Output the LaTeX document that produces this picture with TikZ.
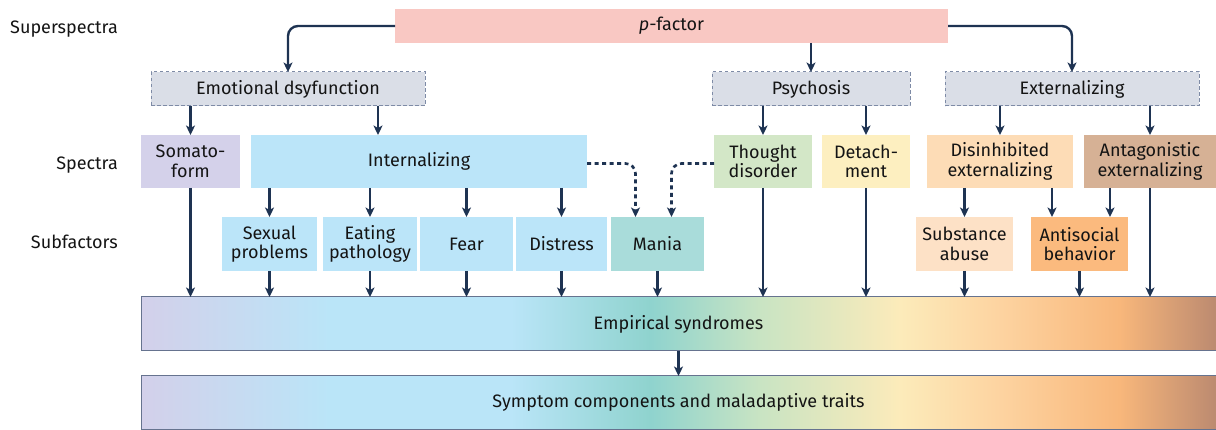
\documentclass[tikz,border=0pt]{standalone}
\usepackage{fontspec}
\setmainfont{Fira Sans}
\usetikzlibrary{arrows.meta,calc}
\definecolor{txt}{HTML}{141414}
\definecolor{arrc}{HTML}{1E3352}
\definecolor{cPf}{HTML}{F9C8C3}
\definecolor{cGray}{HTML}{DADEE7}
\definecolor{cGrayLine}{HTML}{7E8BA6}
\definecolor{cSoma}{HTML}{D4D1EA}
\definecolor{cInt}{HTML}{BBE5F9}
\definecolor{cTd}{HTML}{D3E7C7}
\definecolor{cDet}{HTML}{FDEFC0}
\definecolor{cDis}{HTML}{FDDCB6}
\definecolor{cAnt}{HTML}{D6B195}
\definecolor{cSub}{HTML}{FDE1C6}
\definecolor{cAnti}{HTML}{FBBA7E}
\definecolor{cMania}{HTML}{A9DCDA}
\definecolor{barline}{HTML}{66738F}
\definecolor{gA}{HTML}{D3D0EA}
\definecolor{gB}{HTML}{BAE5F8}
\definecolor{gC}{HTML}{BAE5F8}
\definecolor{gD}{HTML}{8FD3CE}
\definecolor{gE}{HTML}{C9E4C3}
\definecolor{gF}{HTML}{FCEBBA}
\definecolor{gG}{HTML}{FDD3A0}
\definecolor{gH}{HTML}{F8B77B}
\definecolor{gI}{HTML}{BC8A70}
\pgfdeclarehorizontalshading{spectrum}{100bp}{color(0bp)=(gA); color(25bp)=(gA); color(33.8bp)=(gB); color(42.2bp)=(gC); color(48.7bp)=(gD); color(53.8bp)=(gE); color(60.3bp)=(gF); color(65bp)=(gG); color(70.5bp)=(gH); color(75bp)=(gI); color(100bp)=(gI)}
\begin{document}
\begin{tikzpicture}[x=1pt,y=-1pt,
  font=\fontsize{18}{19.5}\selectfont,
  box/.style={inner sep=0pt, outer sep=0pt, align=center, text=txt},
  topbox/.style={box, fill=cGray, draw=cGrayLine, dash pattern=on 3.5pt off 2.5pt, line width=1pt, minimum height=34pt},
  specbox/.style={box, minimum height=53pt},
  subbox/.style={box, minimum height=54pt},
  barbox/.style={box, shade, shading=spectrum, draw=barline, line width=1pt, minimum width=1075pt, minimum height=54pt},
  lab/.style={text=txt, inner sep=0pt, anchor=base east},
  arr/.style={draw=arrc, line width=2.4pt, -{Stealth[length=9.5pt,width=9pt,inset=2.5pt]}},
  dasharr/.style={arr, dash pattern=on 4pt off 3.5pt, line width=2.6pt, rounded corners=10pt}
]
\useasboundingbox (0,0) rectangle (1216,430);
% labels
\node[lab] (lss) at (118,34) {Superspectra};
\node[lab] (lsp) at (118,170) {Spectra};
\node[lab] (lsf) at (118,249) {Subfactors};
% superspectra
\node[box, fill=cPf, minimum width=553pt, minimum height=34pt] (pf) at (671.5,26) {\textit{p}-factor};
\node[topbox, minimum width=274pt] (emo) at (288,89) {Emotional dsyfunction};
\node[topbox, minimum width=198pt] (psy) at (811,89) {Psychosis};
\node[topbox, minimum width=254pt] (ext) at (1072,89) {Externalizing};
% spectra
\node[specbox, fill=cSoma, minimum width=99pt] (soma) at (190.5,161.5) {Somato-\\form};
\node[specbox, fill=cInt, minimum width=336pt] (int) at (419,161.5) {Internalizing};
\node[specbox, fill=cTd, minimum width=98pt] (td) at (763,161.5) {Thought\\disorder};
\node[specbox, fill=cDet, minimum width=88pt] (det) at (866,161.5) {Detach-\\ment};
\node[specbox, fill=cDis, minimum width=146pt] (dis) at (1000,161.5) {Disinhibited\\externalizing};
\node[specbox, fill=cAnt, minimum width=132pt] (ant) at (1150,161.5) {Antagonistic\\externalizing};
% subfactors
\node[subbox, fill=cInt, minimum width=95pt] (sex) at (269.5,244) {Sexual\\problems};
\node[subbox, fill=cInt, minimum width=94pt] (eat) at (370,244) {Eating\\pathology};
\node[subbox, fill=cInt, minimum width=93pt] (fear) at (466.5,244) {Fear};
\node[subbox, fill=cInt, minimum width=91pt] (dist) at (561.5,244) {Distress};
\node[subbox, fill=cMania, minimum width=93pt] (mania) at (657.5,244) {Mania};
\node[subbox, fill=cSub, minimum width=97pt] (subst) at (964.5,244) {Substance\\abuse};
\node[subbox, fill=cAnti, minimum width=97pt] (anti) at (1079.5,244) {Antisocial\\behavior};
% bars
\node[barbox] (emp) at (678.5,324) {Empirical syndromes};
\node[barbox, minimum height=53pt] (sym) at (678.5,402.5) {Symptom components and maladaptive traits};
% connectors
\draw[arr, rounded corners=10pt] (pf.west) -| (emo.north);
\draw[arr] (pf.south -| psy.north) -- (psy.north);
\draw[arr, rounded corners=10pt] (pf.east) -| (ext.north);
\draw[arr] (emo.south -| soma.north) -- (soma.north);
\draw[arr] (emo.south -| 378,0) -- (int.north -| 378,0);
\draw[arr] (psy.south -| td.north) -- (td.north);
\draw[arr] (psy.south -| det.north) -- (det.north);
\draw[arr] (ext.south -| dis.north) -- (dis.north);
\draw[arr] (ext.south -| ant.north) -- (ant.north);
\foreach \n in {sex,eat,fear,dist}
  \draw[arr] (int.south -| \n.north) -- (\n.north);
\draw[dasharr] ($(int.east)+(0,2)$) -| ($(mania.north)+(-22,0)$);
\draw[dasharr] ($(td.west)+(0,2)$) -| ($(mania.north)+(14,0)$);
\draw[arr] (dis.south -| subst.north) -- (subst.north);
\draw[arr] (dis.south -| 1052,0) -- (anti.north -| 1052,0);
\draw[arr] (ant.south -| 1110,0) -- (anti.north -| 1110,0);
\foreach \n in {soma,sex,eat,fear,dist,mania,td,det,subst,anti,ant}
  \draw[arr] (\n.south) -- (\n.south |- emp.north);
\draw[arr] (emp.south) -- (sym.north);
\end{tikzpicture}
\end{document}
